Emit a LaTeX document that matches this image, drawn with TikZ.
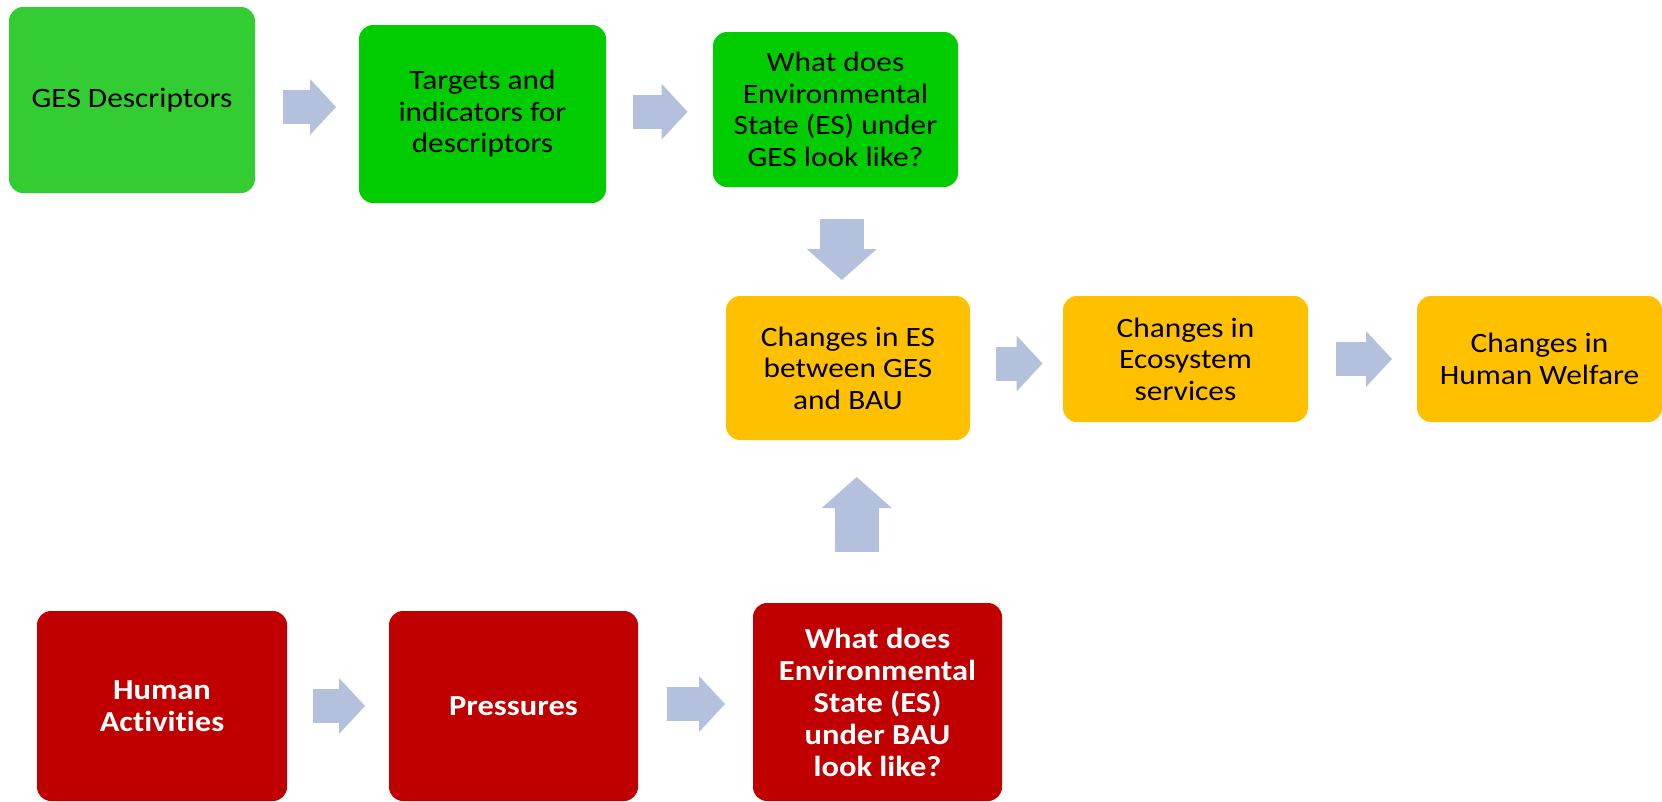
\documentclass[tikz,border=0pt]{standalone}
\usepackage{fontspec}
\newfontfamily\boxfont[FakeStretch=1.12,Ligatures=NoCommon]{Carlito}
\usetikzlibrary{arrows.meta,calc}

\definecolor{gesgreen}{HTML}{33CC33}
\definecolor{stategreen}{HTML}{00CC00}
\definecolor{changeyellow}{HTML}{FFC000}
\definecolor{baured}{HTML}{C00000}
\definecolor{arrowblue}{HTML}{B3C1DD}

\begin{document}
\begin{tikzpicture}[x=1pt,y=-1pt,
  main node/.style={rectangle,rounded corners=14pt,inner sep=0pt,align=center,
    font=\boxfont\fontsize{28}{31.5}\selectfont},
  green node/.style={main node,fill=stategreen},
  yellow node/.style={main node,fill=changeyellow},
  red node/.style={main node,fill=baured,text=white,
    font=\boxfont\bfseries\fontsize{29}{32}\selectfont},
  flow arrow/.style={draw=arrowblue,line width=34pt,
    -{Triangle[length=26pt,width=56pt,line width=0pt]}},
  down arrow/.style={draw=arrowblue,line width=44pt,
    -{Triangle[length=31pt,width=70pt,line width=0pt]}}]

  \useasboundingbox (0,0) rectangle (1662,801);

  \node[main node,fill=gesgreen,minimum width=246pt,minimum height=186pt] at (132,100) (ges) {GES Descriptors};
  \node[green node,minimum width=247pt,minimum height=178pt] at (482.5,114) (targets) {Targets and\\indicators for\\descriptors};
  \node[green node,minimum width=245pt,minimum height=155pt] at (835.5,109.5) (gesstate) {What does\\Environmental\\State (ES) under\\GES look like?};

  \node[yellow node,minimum width=244pt,minimum height=144pt] at (848,368) (esdiff) {Changes in ES\\between GES\\and BAU};
  \node[yellow node,minimum width=245pt,minimum height=126pt] at (1185.5,359) (ecoserv) {Changes in\\Ecosystem\\services};
  \node[yellow node,minimum width=245pt,minimum height=126pt] at (1539.5,359) (welfare) {Changes in\\Human Welfare};

  \node[red node,minimum width=250pt,minimum height=190pt] at (162,706) (human) {Human\\Activities};
  \node[red node,minimum width=249pt,minimum height=190pt] at (513.5,706) (pressures) {Pressures};
  \node[red node,minimum width=249pt,minimum height=198pt] at (877.5,702) (baustate) {What does\\Environmental\\State (ES)\\under BAU\\look like?};

  % top row
  \draw[flow arrow] ($(ges.east)!.5!(targets.west)$) ++(-24,0) -- ++(53,0);
  \draw[flow arrow] ($(targets.east)!.5!(gesstate.west)$) ++(-27,0) -- ++(55,0);
  \draw[down arrow] ($(gesstate.south)!.5!(esdiff.north)$) ++(0,-22.5) -- ++(0,61);

  % middle row
  \draw[flow arrow] ($(esdiff.east)!.5!(ecoserv.west)$) ++(-21,0) -- ++(47,0);
  \draw[flow arrow] ($(ecoserv.east)!.5!(welfare.west)$) ++(-26.5,0) -- ++(56,0);

  % bottom row
  \draw[flow arrow] ($(human.east)!.5!(pressures.west)$) ++(-25,0) -- ++(52,0);
  \draw[flow arrow] ($(pressures.east)!.5!(baustate.west)$) ++(-28.5,0) -- ++(58,0);
  \draw[down arrow] ($(baustate.north)!.5!(esdiff.south)$) ++(-6,30.5) -- ++(0,-75);
\end{tikzpicture}
\end{document}
